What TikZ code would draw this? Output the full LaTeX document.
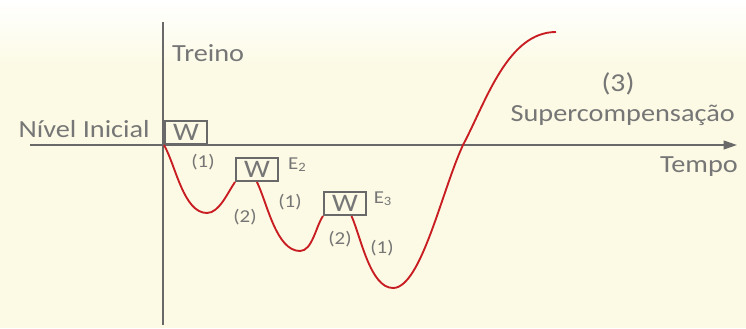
\documentclass[tikz,border=0pt]{standalone}
\usepackage{fontspec}
\setmainfont{Carlito}[FakeStretch=1.15]
\usetikzlibrary{arrows.meta,positioning,calc}
\definecolor{axisgray}{RGB}{105,105,105}
\definecolor{txtgray}{RGB}{118,118,118}
\definecolor{curvered}{RGB}{200,30,35}
\definecolor{bgcream}{RGB}{252,250,228}
\tikzset{
  wbox/.style={draw=axisgray,line width=1.6pt,minimum width=1.26cm,minimum height=0.69cm,
    inner sep=0pt,text=txtgray,font=\fontsize{21.5}{22}\selectfont},
  biglbl/.style={text=txtgray,inner sep=0pt,font=\fontsize{21}{23}\selectfont},
  smlbl/.style={text=txtgray,inner sep=0pt,font=\fontsize{15.5}{16}\selectfont},
  curve/.style={draw=curvered,line width=1.6pt},
  axis/.style={draw=axisgray,line width=1.6pt},
}

\begin{document}
\begin{tikzpicture}
% background
\fill[bgcream] (-4.89,-5.49) rectangle (17.49,4.35);
\shade[top color=white,bottom color=bgcream] (-4.89,2.3) rectangle (17.49,4.35);
\useasboundingbox (-4.89,-5.49) rectangle (17.49,4.35);

% axes
\draw[axis] (0,-5.4) -- (0,3.69);
\draw[axis,-{Triangle[length=0.4cm,width=0.26cm]}] (-3.99,0) -- (17.22,0);

% training loads
\node[wbox,anchor=south west] (w1) at (0.03,0) {W};
\node[wbox,anchor=south west] (w2) at (2.16,-1.11) {W};
\node[wbox,anchor=south west] (w3) at (4.8,-2.13) {W};
\node[smlbl,anchor=north west] (e2) at ([xshift=0.27cm]w2.north east) {E\textsubscript{2}};
\node[smlbl,anchor=north west] (e3) at ([xshift=0.2cm]w3.north east) {E\textsubscript{3}};

% response curve
\coordinate (m1) at (1.32,-2.04);
\coordinate (m2) at (4.11,-3.18);
\coordinate (m3) at (6.9,-4.29);
\coordinate (cross) at (9.0,0);
\coordinate (peak) at (11.79,3.39);
\draw[curve] (w1.south west) to[out=-60,in=180,looseness=0.75] (m1)
  to[out=0,in=-125,looseness=0.75] (w2.south west);
\draw[curve] (w2.south) to[out=-64,in=180,looseness=0.75] (m2)
  to[out=0,in=-125,looseness=0.75] (w3.south west);
\draw[curve] ($(w3.south west)!0.65!(w3.south east)$) to[out=-66,in=180,looseness=0.7] (m3)
  to[out=0,in=-115,out looseness=0.45,in looseness=0.8] (cross)
  to[out=62,in=180,looseness=0.85] (peak);

% phase labels
\node[smlbl] (p1) at (1.2,-0.51) {(1)};
\node[smlbl] (p2) at (2.46,-2.16) {(2)};
\node[smlbl] (p3) at (3.81,-1.71) {(1)};
\node[smlbl] (p4) at (5.31,-2.82) {(2)};
\node[smlbl] (p5) at (6.57,-3.09) {(1)};

% axis texts
\node[biglbl,anchor=base east] (nivel) at (-0.39,0.24) {Nível Inicial};
\node[biglbl,anchor=base west] (treino) at (0.27,2.52) {Treino};
\node[biglbl,anchor=base east] (tempo) at (17.25,-0.83) {Tempo};
\node[biglbl,anchor=base east] (super) at (17.16,0.70) {Supercompensação};
\node[biglbl,anchor=base,font=\fontsize{22}{23}\selectfont] (tres) at (13.65,1.6) {(3)};
\end{tikzpicture}
\end{document}
